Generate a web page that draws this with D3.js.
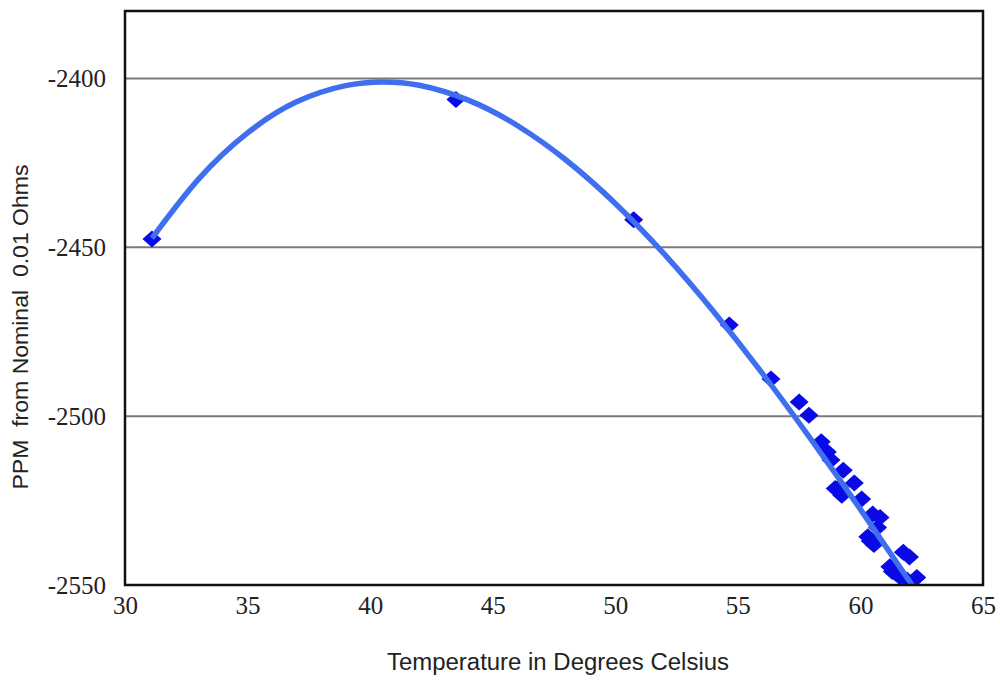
<!DOCTYPE html>
<html>
<head>
<meta charset="utf-8">
<script src="https://cdn.jsdelivr.net/npm/d3@7"></script>
<style>
  body { margin: 0; background: #fff; }
</style>
</head>
<body>
<div id="chart"></div>
<script>
// measured points (temperature in C, ppm from nominal)
const temperature = [31.1, 43.5, 50.75, 54.65, 56.35, 57.5, 57.9, 58.4, 58.65, 58.8,
  58.97, 59.24, 59.15, 59.3, 59.75, 60.05, 60.3, 60.4, 60.5, 60.55, 60.8, 60.7,
  61.2, 61.3, 61.45, 61.6, 61.75, 62.0, 61.9, 62.3];
const ppm = [-2447.5, -2406.2, -2441.8, -2473, -2489, -2495.8, -2499.7, -2507.6, -2510.6, -2513,
  -2521.4, -2523.4, -2521, -2516, -2519.8, -2524.5, -2535.7, -2537, -2529, -2538, -2530, -2533,
  -2544.6, -2546, -2546.5, -2547.5, -2540.3, -2541.7, -2548.5, -2547.8];

// trend line
const trendTemperature = [31.1, 33, 35, 37, 39, 40.5, 42, 44, 46, 48, 50, 52, 54, 56, 58, 60, 62.2];
const trendPpm = [-2447.3, -2429.8, -2416.1, -2406.9, -2402.1, -2401, -2402, -2406.4, -2413.9,
  -2424.2, -2437, -2452, -2468.9, -2487.3, -2507, -2527.6, -2551];

const xTicks = [30, 35, 40, 45, 50, 55, 60, 65];
const yTicks = [-2400, -2450, -2500, -2550];
const gridValues = [-2400, -2450, -2500];

const margin = { top: 11, right: 17, bottom: 96, left: 125 },
  width = 1000 - margin.left - margin.right,
  height = 681 - margin.top - margin.bottom;

const svg = d3
  .select("#chart")
  .append("svg")
  .attr("width", 1000)
  .attr("height", 681)
  .append("g")
  .attr("transform", `translate(${margin.left},${margin.top})`);

const xScale = d3.scaleLinear().domain([30, 65]).range([0, width]);
const yScale = d3.scaleLinear().domain([-2550, -2380]).range([height, 0]);

svg.append("clipPath")
  .attr("id", "plotclip")
  .append("rect")
  .attr("width", width)
  .attr("height", height);

// gridlines
svg.append("g")
  .selectAll("line")
  .data(gridValues)
  .join("line")
  .attr("x1", 0)
  .attr("x2", width)
  .attr("y1", (d) => yScale(d))
  .attr("y2", (d) => yScale(d))
  .attr("stroke", "#7a7a7a")
  .attr("stroke-width", 2);

// markers
const points = temperature.map((t, i) => ({ t: t, v: ppm[i] }));
const diamond = "M0,-8.5L9.5,0L0,8.5L-9.5,0Z";
svg.append("g")
  .attr("clip-path", "url(#plotclip)")
  .selectAll("path")
  .data(points)
  .join("path")
  .attr("d", diamond)
  .attr("transform", (d) => `translate(${xScale(d.t)},${yScale(d.v)})`)
  .attr("fill", "#0a0ae6");

// trend line
const trend = trendTemperature.map((t, i) => ({ t: t, v: trendPpm[i] }));
const line = d3.line()
  .x((d) => xScale(d.t))
  .y((d) => yScale(d.v))
  .curve(d3.curveNatural);

svg.append("path")
  .datum(trend)
  .attr("clip-path", "url(#plotclip)")
  .attr("d", line)
  .attr("fill", "none")
  .attr("stroke", "#3f6fee")
  .attr("stroke-width", 5.5);

// frame
svg.append("rect")
  .attr("width", width)
  .attr("height", height)
  .attr("fill", "none")
  .attr("stroke", "#111")
  .attr("stroke-width", 2.5);

// axes
const yAxis = svg.append("g")
  .call(d3.axisLeft(yScale).tickValues(yTicks).tickSize(0).tickPadding(19)
    .tickFormat((d) => String(d)));
yAxis.select(".domain").remove();
yAxis.selectAll("text")
  .style("font-family", "'Liberation Serif', 'Times New Roman', serif")
  .style("font-size", "25px")
  .attr("fill", "#222");

const xAxis = svg.append("g")
  .attr("transform", `translate(0,${height})`)
  .call(d3.axisBottom(xScale).tickValues(xTicks).tickSize(0).tickPadding(11));
xAxis.select(".domain").remove();
xAxis.selectAll("text")
  .style("font-family", "'Liberation Serif', 'Times New Roman', serif")
  .style("font-size", "25px")
  .attr("fill", "#222");

// axis titles
svg.append("text")
  .attr("x", width / 2 + 4)
  .attr("y", height + 85)
  .attr("text-anchor", "middle")
  .attr("textLength", 342)
  .attr("lengthAdjust", "spacingAndGlyphs")
  .style("font-family", "'Liberation Sans', Arial, sans-serif")
  .style("font-size", "23px")
  .attr("fill", "#222")
  .text("Temperature in Degrees Celsius");

svg.append("text")
  .attr("transform", "rotate(-90)")
  .attr("x", -(327 - margin.top))
  .attr("y", -margin.left + 28)
  .attr("text-anchor", "middle")
  .attr("textLength", 325)
  .attr("lengthAdjust", "spacingAndGlyphs")
  .style("font-family", "'Liberation Sans', Arial, sans-serif")
  .style("font-size", "22px")
  .style("white-space", "pre")
  .attr("fill", "#222")
  .text("PPM  from Nominal  0.01 Ohms");
</script>
</body>
</html>
